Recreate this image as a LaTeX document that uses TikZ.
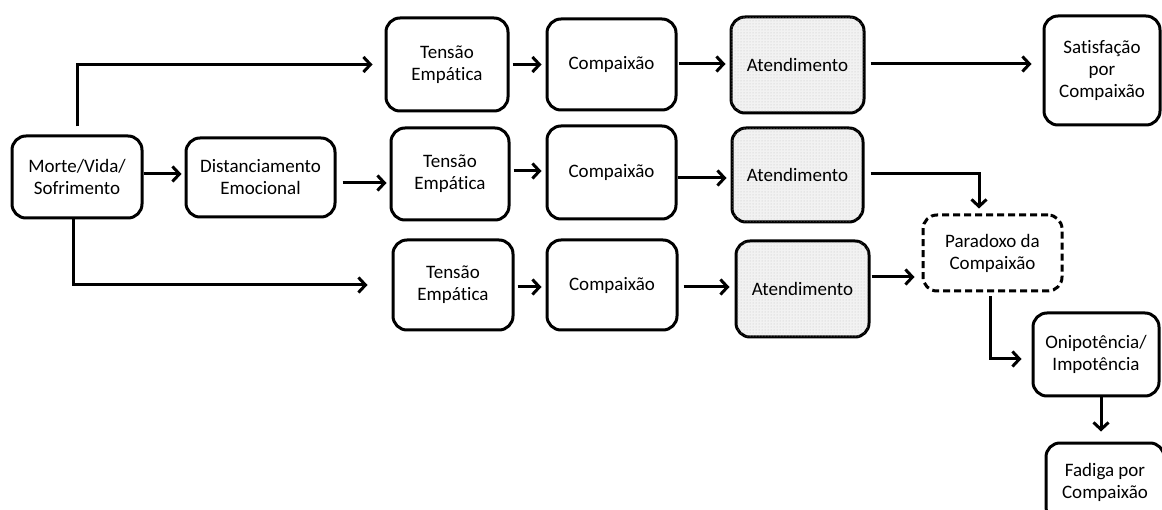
\documentclass[tikz,border=0pt]{standalone}
\usepackage{fontspec}
\setmainfont{Carlito}[Ligatures=NoCommon]
\usetikzlibrary{arrows.meta,patterns}
\tikzset{
  box/.style={draw, line width=3pt, rounded corners=14pt, align=center, inner sep=0pt,
    font=\fontsize{19}{22}\selectfont},
  shaded/.style={box, fill=gray!10, postaction={pattern=dots, pattern color=gray!50}},
  dbox/.style={box, dash pattern=on 7pt off 4pt},
  arr/.style={line width=3pt, -{Straight Barb[length=7pt,width=15pt]}},
}
\begin{document}
\begin{tikzpicture}[x=1pt,y=-1pt]
\clip (0,0) rectangle (1162,510);
\fill[white] (0,0) rectangle (1162,510);
% nodes
\node[box, minimum width=130pt, minimum height=82pt] (M) at (77,177) {Morte/Vida/\\Sofrimento};
\node[box, minimum width=149pt, minimum height=79pt] (D) at (260.5,177.5) {Distanciamento\\Emocional};
\node[box, minimum width=122pt, minimum height=93pt] (T1) at (447,64.5) {Tensão\\Empática};
\node[box, minimum width=129pt, minimum height=91pt] (C1) at (611.5,64.5) {Compaixão};
\node[shaded, minimum width=133pt, minimum height=96pt] (A1) at (797.5,65) {Atendimento};
\node[box, minimum width=116pt, minimum height=109pt] (S) at (1102,70.5) {Satisfação\\por\\Compaixão};
\node[box, minimum width=118pt, minimum height=92pt] (T2) at (450,174) {Tensão\\Empática};
\node[box, minimum width=129pt, minimum height=93pt] (C2) at (611.5,172.5) {Compaixão};
\node[shaded, minimum width=131pt, minimum height=94pt] (A2) at (797.5,175) {Atendimento};
\node[box, minimum width=120pt, minimum height=90pt] (T3) at (453,285) {Tensão\\Empática};
\node[box, minimum width=130pt, minimum height=90pt] (C3) at (612,285) {Compaixão};
\node[shaded, minimum width=133pt, minimum height=96pt] (A3) at (802.5,289) {Atendimento};
\node[dbox, minimum width=139pt, minimum height=76pt] (P) at (992.5,253) {Paradoxo da\\Compaixão};
\node[box, minimum width=126pt, minimum height=83pt] (O) at (1096,354.5) {Onipotência/\\Impotência};
\node[box, minimum width=118pt, minimum height=78pt] (F) at (1105,482) {Fadiga por\\Compaixão};
% connectors
\draw[arr, shorten <=8pt, shorten >=12pt] (M.north) |- (T1.west);
\draw[arr, shorten >=24pt] ([xshift=-4pt]M.south) |- (T3.west);
\draw[arr, shorten >=3pt] ([yshift=3pt]M.east) -- ([yshift=3.5pt]D.west);
\draw[arr, shorten <=6pt, shorten >=3pt] ([yshift=-5.5pt]D.east) -- ([yshift=-9pt]T2.west);
\draw[arr, shorten <=3pt, shorten >=4pt] (T1.east) -- (C1.west);
\draw[arr, shorten <=1pt, shorten >=4pt] ([yshift=0.5pt]C1.east) -- ([yshift=1pt]A1.west);
\draw[arr, shorten <=5pt, shorten >=11pt] ([yshift=1pt]A1.east) -- ([yshift=6.5pt]S.west);
\draw[arr, shorten <=3pt, shorten >=4pt] ([yshift=3pt]T2.east) -- ([yshift=1.5pt]C2.west);
\draw[arr, shorten >=4pt] ([yshift=-5.5pt]C2.east) -- ([yshift=-3pt]A2.west);
\draw[arr, shorten <=6pt, shorten >=5pt] ([yshift=1pt]A2.east) -| ([xshift=-13.5pt]P.north);
\draw[arr, shorten <=3pt, shorten >=4pt] ([yshift=-2pt]T3.east) -- ([yshift=-2pt]C3.west);
\draw[arr, shorten <=5pt, shorten >=5pt] ([yshift=-2pt]C3.east) -- ([yshift=2pt]A3.west);
\draw[arr, shorten <=1pt, shorten >=7pt] ([yshift=12pt]A3.east) -- ([yshift=-24pt]P.west);
\draw[arr, shorten <=4pt, shorten >=10pt] ([xshift=-2.5pt]P.south) |- ([yshift=-4.5pt]O.west);
\draw[arr, shorten >=10pt] ([xshift=5pt]O.south) -- ([xshift=-4pt]F.north);
\end{tikzpicture}
\end{document}
